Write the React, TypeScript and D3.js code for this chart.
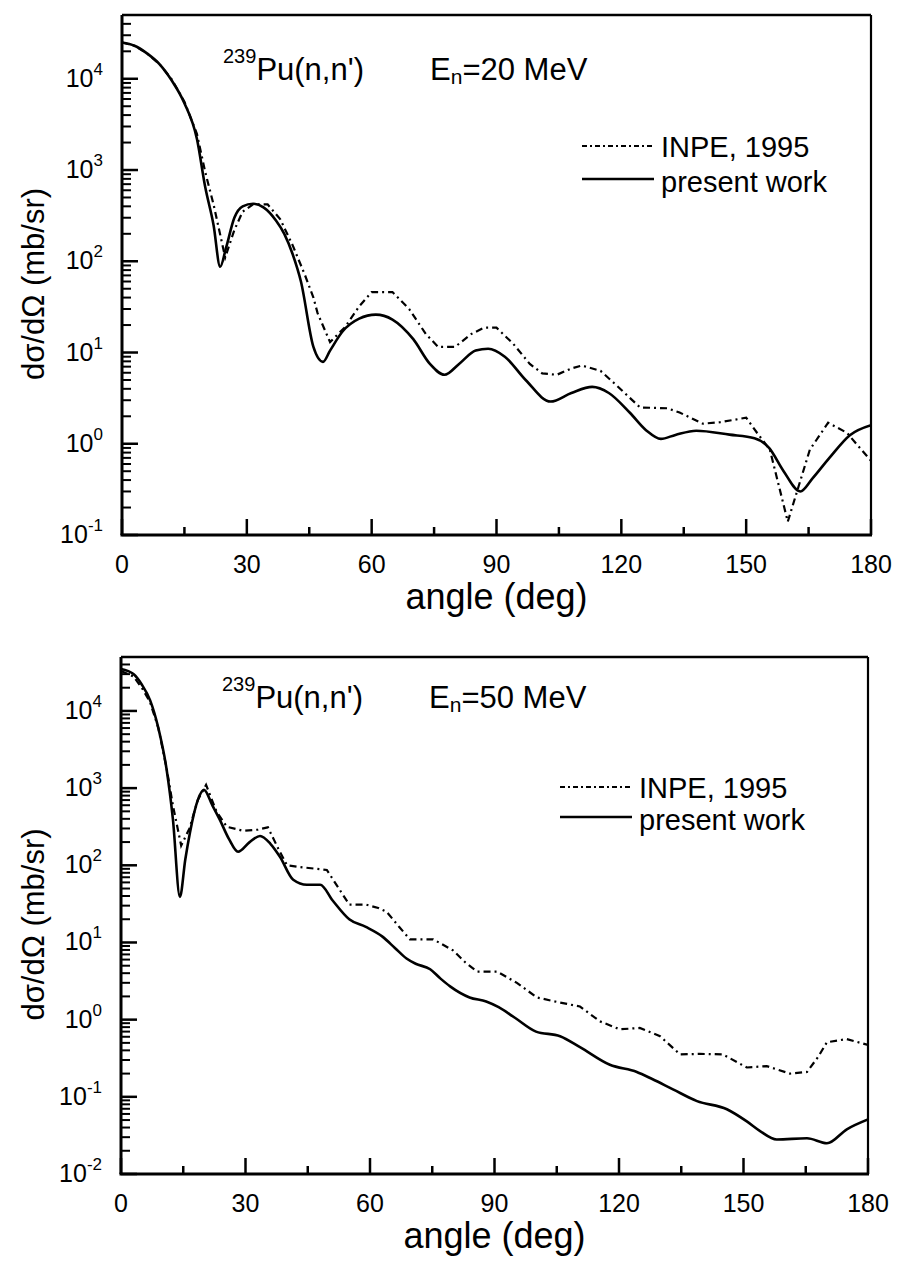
import React from "react";
import * as d3 from "d3";

// ---------- data: 20 MeV ----------
const presentAngles20 = [0, 3, 6, 9, 12, 15, 18, 20, 22, 23.6, 25, 27, 29, 31.5, 34, 37, 39, 41, 43, 46, 48.3, 50, 53, 57, 61, 65, 70, 74, 77.5, 81, 85, 88, 92, 97, 103, 108, 113, 117, 122, 126, 129.5, 133, 138, 146, 152, 155.5, 159, 163, 166, 170, 175, 180];
const presentValues20 = [2.5e4, 2.3e4, 1.9e4, 1.45e4, 9.5e3, 5.4e3, 2.2e3, 650, 250, 87, 140, 300, 400, 427, 390, 280, 200, 120, 60, 11.5, 7.9, 10.5, 17, 23.5, 26, 23, 14, 7.5, 5.7, 7.5, 10.5, 11, 9, 5, 2.9, 3.6, 4.2, 3.6, 2.2, 1.4, 1.13, 1.25, 1.39, 1.26, 1.15, 0.9, 0.5, 0.3, 0.42, 0.7, 1.25, 1.6];
const inpeAngles20 = [0, 3, 6, 9, 12, 15, 18, 20, 22, 24.8, 27, 29, 31.5, 35, 38, 41, 44, 46, 47, 50, 53.6, 57, 60, 65, 69, 73, 76, 80, 84, 87, 90, 94, 98, 101, 104.5, 108, 110.5, 115, 119, 124.5, 131, 134, 139.6, 143.7, 150, 152.6, 155.7, 160, 165.3, 169.7, 174.2, 180];
const inpeValues20 = [2.5e4, 2.3e4, 1.9e4, 1.45e4, 9.8e3, 5.6e3, 2.5e3, 950, 420, 110, 220, 350, 420, 420, 290, 150, 70, 40, 27, 13, 19, 32, 46, 46, 30, 16, 11.5, 11.5, 16, 18.7, 18.7, 12.5, 7.5, 5.9, 5.7, 6.7, 7.2, 6.3, 4.3, 2.5, 2.45, 2.2, 1.66, 1.72, 1.93, 1.32, 0.86, 0.14, 0.86, 1.7, 1.32, 0.65];

// ---------- data: 50 MeV ----------
const presentAngles50 = [0, 3, 5, 7, 9, 11, 12.5, 14.2, 15.5, 16.6, 18.5, 20, 22, 23.8, 26, 28.2, 31, 33.5, 36, 38.3, 41.5, 44.8, 48, 51, 55, 59, 63, 66, 68.8, 71, 74.5, 77, 79.3, 84, 88, 91, 95, 100, 105.8, 110.6, 117.8, 124.3, 128, 133, 138.8, 146, 150.8, 154, 158, 165.3, 170.1, 174.9, 180];
const presentValues50 = [3.5e4, 3.0e4, 2.2e4, 1.38e4, 6e3, 1.73e3, 400, 39, 120, 263, 700, 950, 600, 390, 220, 150, 200, 240, 190, 129, 65, 56, 56, 35, 20, 15.9, 11.9, 8.5, 6.2, 5.3, 4.5, 3.4, 2.7, 1.94, 1.72, 1.45, 1.05, 0.7, 0.61, 0.44, 0.26, 0.21, 0.17, 0.125, 0.088, 0.069, 0.048, 0.036, 0.028, 0.029, 0.025, 0.038, 0.051];
const inpeAngles50 = [0, 3, 5, 7, 9, 11, 12.5, 14.5, 16.5, 18.5, 20.5, 23, 25.5, 29.4, 33, 35.4, 38, 40, 43, 49.6, 52, 55, 59, 62, 64, 67, 69.6, 75.2, 80, 83, 85.8, 90.6, 95.4, 100.2, 105, 110.6, 115.4, 120.2, 125, 129.9, 134.7, 139.5, 145, 150.8, 155.6, 161.2, 165.3, 168, 170.1, 174.9, 180];
const inpeValues50 = [3.3e4, 2.8e4, 2.0e4, 1.3e4, 6e3, 1.8e3, 600, 180, 300, 700, 1100, 500, 316, 280, 290, 310, 160, 100, 95, 87, 55, 31, 31, 28, 25, 16, 11, 11, 7.9, 5.5, 4.2, 4.2, 3.0, 1.94, 1.7, 1.48, 0.95, 0.75, 0.78, 0.61, 0.355, 0.36, 0.355, 0.24, 0.25, 0.2, 0.21, 0.33, 0.51, 0.56, 0.47];

// ---------- axes / labels ----------
const xMajorTicks = [0, 30, 60, 90, 120, 150, 180];
const xMinorTicks = [15, 45, 75, 105, 135, 165];
const yDecades20 = [-1, 0, 1, 2, 3, 4];
const yDecades50 = [-2, -1, 0, 1, 2, 3, 4];
const legendLabels = ["INPE, 1995", "present work"];
const energies = ["20", "50"];

const FONT = "'Liberation Sans', Arial, Helvetica, sans-serif";

type PanelProps = {
  left: number; right: number; top: number; bottom: number;
  yMin: number; yMax: number; decades: number[];
  present: [number, number][]; inpe: [number, number][];
  energy: string;
  titleY: number; legendX: number; legendY: number; legendGap: number;
};

function zip(a: number[], b: number[]): [number, number][] {
  return a.map((v, i) => [v, b[i]]);
}

function Panel(p: PanelProps) {
  const x = d3.scaleLinear().domain([0, 180]).range([p.left, p.right]);
  const y = d3.scaleLog().domain([p.yMin, p.yMax]).range([p.bottom, p.top]);
  const line = d3.line<[number, number]>().x(d => x(d[0])).y(d => y(d[1]));
  const solidPath = line.curve(d3.curveMonotoneX)(p.present) || "";
  const dashPath = d3.line<[number, number]>().x(d => x(d[0])).y(d => y(d[1])).curve(d3.curveLinear)(p.inpe) || "";

  const minor: number[] = [];
  p.decades.forEach(e => {
    for (let m = 2; m <= 9; m++) {
      const v = m * Math.pow(10, e);
      if (v <= p.yMax) minor.push(v);
    }
  });

  const clipId = `clip-${p.energy}`;
  return (
    <g>
      <defs>
        <clipPath id={clipId}>
          <rect x={p.left} y={p.top} width={p.right - p.left} height={p.bottom - p.top} />
        </clipPath>
      </defs>
      <g clipPath={`url(#${clipId})`}>
        <path d={dashPath} fill="none" stroke="#000" strokeWidth={2.2} strokeDasharray="7 4 2 4" />
        <path d={solidPath} fill="none" stroke="#000" strokeWidth={2.6} />
      </g>
      {/* frame */}
      <line x1={p.left} x2={p.right} y1={p.top} y2={p.top} stroke="#000" strokeWidth={2.5} />
      <line x1={p.right} x2={p.right} y1={p.top} y2={p.bottom} stroke="#000" strokeWidth={2.2} />
      <line x1={p.left} x2={p.left} y1={p.top} y2={p.bottom} stroke="#000" strokeWidth={3} />
      <line x1={p.left - 1.5} x2={p.right + 1} y1={p.bottom} y2={p.bottom} stroke="#000" strokeWidth={3} />
      {/* x ticks */}
      {xMajorTicks.map(t => (
        <g key={`xm${t}`}>
          <line x1={x(t)} x2={x(t)} y1={p.bottom} y2={p.bottom - 16} stroke="#000" strokeWidth={2.5} />
          <text x={x(t)} y={p.bottom + 38} fontSize={25} textAnchor="middle" fontFamily={FONT}>{t}</text>
        </g>
      ))}
      {xMinorTicks.map(t => (
        <line key={`xn${t}`} x1={x(t)} x2={x(t)} y1={p.bottom} y2={p.bottom - 8} stroke="#000" strokeWidth={2.5} />
      ))}
      {/* y ticks */}
      {p.decades.map(e => (
        <g key={`yd${e}`}>
          <line x1={p.left} x2={p.left + 16} y1={y(Math.pow(10, e))} y2={y(Math.pow(10, e))} stroke="#000" strokeWidth={2.5} />
          <text x={p.left - 19} y={y(Math.pow(10, e)) + 8} fontSize={25} textAnchor="end" fontFamily={FONT}>
            10<tspan fontSize={17} dy={-12}>{e}</tspan>
          </text>
        </g>
      ))}
      {minor.map(v => (
        <line key={`yn${v}`} x1={p.left} x2={p.left + 9} y1={y(v)} y2={y(v)} stroke="#000" strokeWidth={2} />
      ))}
      {/* axis titles */}
      <text x={(p.left + p.right) / 2} y={p.bottom + 74} fontSize={36} textAnchor="middle" fontFamily={FONT}>angle (deg)</text>
      <text transform={`translate(44, ${(p.top + p.bottom) / 2 + 9}) rotate(-90)`} fontSize={31} textAnchor="middle" fontFamily={FONT}>dσ/dΩ (mb/sr)</text>
      {/* panel title */}
      <text x={p.left + 101} y={p.titleY} fontSize={31} fontFamily={FONT}>
        <tspan fontSize={20} dy={-17}>239</tspan><tspan dy={17}>Pu(n,n')</tspan>
      </text>
      <text x={p.left + 308} y={p.titleY} fontSize={31} fontFamily={FONT}>
        E<tspan fontSize={21} dy={4}>n</tspan><tspan dy={-4}>={p.energy} MeV</tspan>
      </text>
      {/* legend */}
      <line x1={p.legendX} x2={p.legendX + 70} y1={p.legendY - 11} y2={p.legendY - 11} stroke="#000" strokeWidth={2} strokeDasharray="5 3 2 3" />
      <text x={p.legendX + 79} y={p.legendY} fontSize={29} fontFamily={FONT}>{legendLabels[0]}</text>
      <line x1={p.legendX} x2={p.legendX + 72} y1={p.legendY + p.legendGap - 13} y2={p.legendY + p.legendGap - 13} stroke="#000" strokeWidth={2.6} />
      <text x={p.legendX + 79} y={p.legendY + p.legendGap} fontSize={29} fontFamily={FONT}>{legendLabels[1]}</text>
    </g>
  );
}

export default function App() {
  return (
    <svg width={899} height={1264} viewBox="0 0 899 1264" style={{ position: "absolute", left: 0, top: 0, background: "#fff" }}>
      <rect x={0} y={0} width={899} height={1264} fill="#fff" />
      <Panel left={122} right={871} top={15} bottom={535} yMin={0.1} yMax={5e4} decades={yDecades20}
        present={zip(presentAngles20, presentValues20)} inpe={zip(inpeAngles20, inpeValues20)}
        energy={energies[0]} titleY={80} legendX={582} legendY={157} legendGap={35} />
      <Panel left={121} right={868} top={657} bottom={1174} yMin={0.01} yMax={5e4} decades={yDecades50}
        present={zip(presentAngles50, presentValues50)} inpe={zip(inpeAngles50, inpeValues50)}
        energy={energies[1]} titleY={708} legendX={560} legendY={798} legendGap={32} />
    </svg>
  );
}
